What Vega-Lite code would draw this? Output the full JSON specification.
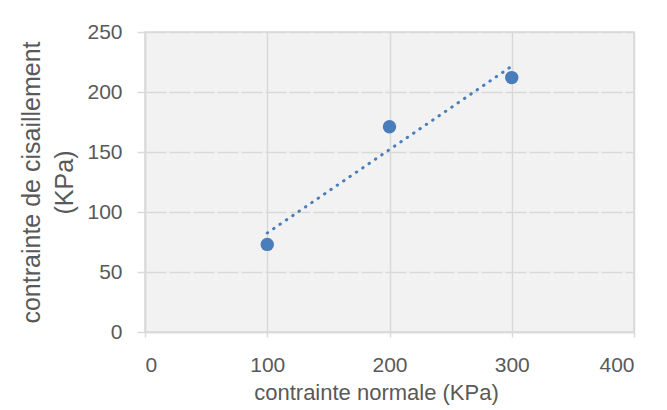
{
  "$schema": "https://vega.github.io/schema/vega-lite/v6.json",
  "width": 489,
  "height": 300,
  "autosize": "none",
  "padding": {"left": 145, "top": 32, "right": 33, "bottom": 78},
  "background": "white",
  "data": {"values": [
    {"normale": 100, "cisaillement": 73},
    {"normale": 200, "cisaillement": 171},
    {"normale": 300, "cisaillement": 212}
  ]},
  "config": {
    "font": "Liberation Sans",
    "view": {"fill": "#f2f2f2", "stroke": "#d9d9d9", "strokeWidth": 1.5},
    "axis": {
      "labelFont": "Liberation Sans",
      "titleFont": "Liberation Sans",
      "labelFontSize": 21,
      "labelColor": "#595959",
      "titleColor": "#595959",
      "titleFontWeight": "normal",
      "gridColor": "#d9d9d9",
      "gridWidth": 1.5,
      "domainColor": "#d9d9d9",
      "domainWidth": 1.5,
      "tickColor": "#d9d9d9",
      "tickWidth": 1.5
    }
  },
  "layer": [
    {
      "mark": {"type": "line", "color": "#4a7ebb", "strokeWidth": 3, "strokeDash": [0.5, 7.2], "strokeCap": "round"},
      "transform": [{"regression": "cisaillement", "on": "normale", "extent": [100, 300]}],
      "encoding": {
        "x": {"field": "normale", "type": "quantitative"},
        "y": {"field": "cisaillement", "type": "quantitative"}
      }
    },
    {
      "mark": {"type": "circle", "color": "#4a7ebb", "opacity": 1, "size": 180},
      "encoding": {
        "x": {
          "field": "normale", "type": "quantitative",
          "scale": {"domain": [0, 400], "nice": false},
          "axis": {"values": [0, 100, 200, 300, 400], "title": "contrainte normale (KPa)", "titleFontSize": 22, "tickSize": 5, "labelPadding": 17, "titlePadding": 7, "titleX": 231}
        },
        "y": {
          "field": "cisaillement", "type": "quantitative",
          "scale": {"domain": [0, 250], "nice": false},
          "axis": {"values": [0, 50, 100, 150, 200, 250], "title": ["contrainte de cisaillement", "(KPa)"], "titleFontSize": 25, "tickSize": 8, "labelPadding": 15, "titlePadding": 9, "titleLineHeight": 33, "gridDash": [21, 3]}
        }
      }
    }
  ]
}
